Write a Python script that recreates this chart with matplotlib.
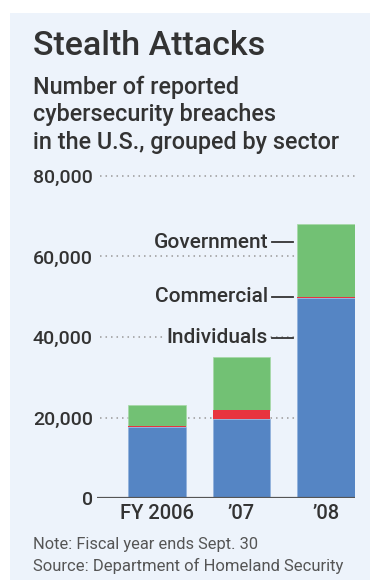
import matplotlib
matplotlib.use('Agg')
import matplotlib.pyplot as plt
from matplotlib.patches import Rectangle

years = ['FY 2006', '\u201907', '\u201908']
individuals = [17600, 19600, 49600]
commercial = [400, 2300, 400]
government = [5100, 13100, 18100]
series_names = ['Individuals', 'Commercial', 'Government']
yticks = [0, 20000, 40000, 60000, 80000]
ytick_labels = ['0', '20,000', '40,000', '60,000', '80,000']

# where the series labels sit on the y axis
label_y = [39800, 50000, 63600]

blue = '#5585c4'
red = '#e8343f'
green = '#72c174'
panel = '#edf3fb'
ink = '#333333'

plt.rcParams['font.family'] = ['Roboto', 'DejaVu Sans']

W, H = 370, 580
fig = plt.figure(figsize=(W / 100, H / 100), dpi=100)
fig.patch.set_facecolor('white')
fig.patches.append(Rectangle((10 / W, 0), 1, 1 - 13 / H, transform=fig.transFigure,
                             facecolor=panel, edgecolor='none', zorder=-10))

fig.text(33 / W, 1 - 55 / H, 'Stealth Attacks', fontsize=24.5, fontweight='medium', color=ink)
sub = ['Number of reported', 'cybersecurity breaches', 'in the U.S., grouped by sector']
for i, s in enumerate(sub):
    fig.text(33 / W, 1 - (94 + 27.5 * i) / H, s, fontsize=16.8, fontweight='medium', color=ink)

ax = fig.add_axes([97 / W, 82 / H, (355 - 97) / W, (498 - 176) / H])
ax.set_facecolor('none')
x = [0, 1, 2]
w = 0.675
bot2 = [a + b for a, b in zip(individuals, commercial)]
ax.bar(x, individuals, w, color=blue, edgecolor='#8fb0dc', linewidth=0.5, zorder=3)
ax.bar(x, government, w, bottom=bot2, color=green, edgecolor='#a5d8a6', linewidth=0.5, zorder=3)
ax.bar(x, commercial, w, bottom=individuals, color=red, linewidth=0, zorder=4)

ax.set_xlim(-0.71, 2.343)
ax.set_ylim(0, 80000)
for s in ax.spines.values():
    s.set_visible(False)
for v in yticks[1:]:
    ax.plot([0.012, 1], [v, v], transform=ax.get_yaxis_transform(), color='#9a9a9a',
            linestyle=(0, (1, 2.6)), linewidth=1.1, zorder=1, clip_on=False)
ax.axhline(0, color='#555555', linewidth=1.6, zorder=5)
ax.set_yticks(yticks)
ax.set_yticklabels(ytick_labels, fontsize=14, fontweight='medium', color=ink)
ax.tick_params(axis='y', length=0, pad=3)
ax.set_xticks(x)
ax.set_xticklabels(years, fontsize=14.5, fontweight='medium', color=ink)
ax.tick_params(axis='x', length=0, pad=4)

for name, yv in zip(series_names, label_y):
    ax.text(1.314, yv, name, ha='right', va='center', fontsize=15, fontweight='medium',
            color=ink, zorder=6, bbox=dict(facecolor=panel, edgecolor='none', pad=1.5))
    ax.plot([1.36, 1.61], [yv, yv], color=ink, linewidth=1.3, zorder=6)

fig.text(33 / W, 1 - 549 / H, 'Note: Fiscal year ends Sept. 30', fontsize=11.8, color='#555555')
fig.text(33 / W, 1 - 571 / H, 'Source: Department of Homeland Security', fontsize=12, color='#555555')

fig.savefig('out.png', dpi=100, facecolor=fig.get_facecolor())
